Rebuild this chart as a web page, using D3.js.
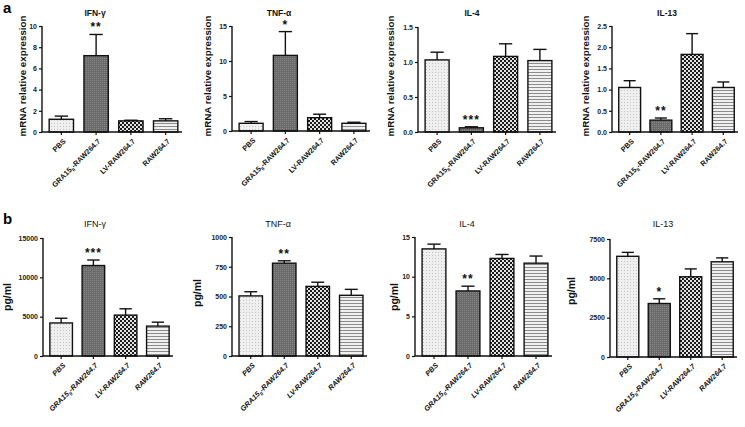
<!DOCTYPE html>
<html><head><meta charset="utf-8">
<script src="https://cdn.jsdelivr.net/npm/d3@7"></script>
<style>body{margin:0;background:#fff}svg{display:block}text{font-family:"Liberation Sans",Arial,sans-serif}</style>
</head><body>
<svg id="c" width="745" height="427"></svg>
<script>
// ---------------- DATA ----------------
const categories = ["PBS", "GRA15II-RAW264.7", "LV-RAW264.7", "RAW264.7"];

const aIFNg = [1.2, 7.2, 1.05, 1.05];
const aIFNgErr = [0.3, 2.0, 0.06, 0.2];
const aIFNgTicks = [0, 2, 4, 6, 8, 10];
const aIFNgSig = "**";

const aTNFa = [1.1, 10.8, 1.9, 1.1];
const aTNFaErr = [0.25, 3.4, 0.5, 0.15];
const aTNFaTicks = [0, 5, 10, 15];
const aTNFaSig = "*";

const aIL4 = [1.03, 0.06, 1.08, 1.02];
const aIL4Err = [0.11, 0.015, 0.18, 0.16];
const aIL4Ticks = [0, 0.5, 1.0, 1.5];
const aIL4Sig = "***";

const aIL13 = [1.05, 0.28, 1.83, 1.05];
const aIL13Err = [0.16, 0.05, 0.49, 0.13];
const aIL13Ticks = [0, 0.5, 1.0, 1.5, 2.0, 2.5];
const aIL13Sig = "**";

const bIFNg = [4200, 11500, 5200, 3800];
const bIFNgErr = [600, 700, 800, 500];
const bIFNgTicks = [0, 5000, 10000, 15000];
const bIFNgSig = "***";

const bTNFa = [505, 780, 585, 510];
const bTNFaErr = [35, 20, 35, 50];
const bTNFaTicks = [0, 250, 500, 750, 1000];
const bTNFaSig = "**";

const bIL4 = [13.5, 8.2, 12.3, 11.7];
const bIL4Err = [0.6, 0.6, 0.5, 0.9];
const bIL4Ticks = [0, 5, 10, 15];
const bIL4Sig = "**";

const bIL13 = [6400, 3400, 5100, 6050];
const bIL13Err = [250, 300, 500, 250];
const bIL13Ticks = [0, 2500, 5000, 7500];
const bIL13Sig = "*";

// ---------------- LAYOUT ----------------
const svg = d3.select("#c");
const defs = svg.append("defs");
(function(){
  let p = defs.append("pattern").attr("id","pPBS").attr("width",3).attr("height",3).attr("patternUnits","userSpaceOnUse");
  p.append("rect").attr("width",3).attr("height",3).attr("fill","#efefef");
  p.append("rect").attr("x",0).attr("y",0).attr("width",1).attr("height",1).attr("fill","#c4c4c4");
  p = defs.append("pattern").attr("id","pGRA").attr("width",2).attr("height",2).attr("patternUnits","userSpaceOnUse");
  p.append("rect").attr("width",2).attr("height",2).attr("fill","#6a6a6a");
  p.append("rect").attr("x",0).attr("y",0).attr("width",1).attr("height",1).attr("fill","#888");
  p = defs.append("pattern").attr("id","pLV").attr("width",4).attr("height",4).attr("patternUnits","userSpaceOnUse");
  p.append("rect").attr("width",4).attr("height",4).attr("fill","#e4e4e4");
  p.append("rect").attr("x",0).attr("y",0).attr("width",2).attr("height",2).attr("fill","#1a1a1a");
  p.append("rect").attr("x",2).attr("y",2).attr("width",2).attr("height",2).attr("fill","#1a1a1a");
  p = defs.append("pattern").attr("id","pRAW").attr("width",4).attr("height",3).attr("patternUnits","userSpaceOnUse");
  p.append("rect").attr("width",4).attr("height",3).attr("fill","#f0f0f0");
  p.append("rect").attr("x",0).attr("y",0).attr("width",4).attr("height",1).attr("fill","#8c8c8c");
})();
const fills = ["url(#pPBS)","url(#pGRA)","url(#pLV)","url(#pRAW)"];

const panels = [
  {title:"IFN-γ", vals:aIFNg, err:aIFNgErr, ticks:aIFNgTicks, sig:aIFNgSig, fmt:d3.format("d"), x0:42, x1:182, yTop:26, yZero:132, tx:95, ty:16, lx:23, ly:76, ylab:"mRNA relative expression", row:"a"},
  {title:"TNF-α", vals:aTNFa, err:aTNFaErr, ticks:aTNFaTicks, sig:aTNFaSig, fmt:d3.format("d"), x0:232, x1:370, yTop:26, yZero:131, tx:279, ty:16, lx:208, ly:76, ylab:"mRNA relative expression", row:"a"},
  {title:"IL-4", vals:aIL4, err:aIL4Err, ticks:aIL4Ticks, sig:aIL4Sig, fmt:d3.format(".1f"), x0:418, x1:556, yTop:27, yZero:132, tx:472, ty:16, lx:391, ly:76, ylab:"mRNA relative expression", row:"a"},
  {title:"IL-13", vals:aIL13, err:aIL13Err, ticks:aIL13Ticks, sig:aIL13Sig, fmt:d3.format(".1f"), x0:612, x1:738, yTop:26, yZero:132, tx:667, ty:16, lx:586, ly:76, ylab:"mRNA relative expression", row:"a"},
  {title:"IFN-γ", vals:bIFNg, err:bIFNgErr, ticks:bIFNgTicks, sig:bIFNgSig, fmt:d3.format("d"), x0:43, x1:173, yTop:238, yZero:356, tx:95, ty:227, lx:7, ly:297, ylab:"pg/ml", row:"b"},
  {title:"TNF-α", vals:bTNFa, err:bTNFaErr, ticks:bTNFaTicks, sig:bTNFaSig, fmt:d3.format("d"), x0:232, x1:367, yTop:237, yZero:356, tx:278, ty:227, lx:197, ly:293, ylab:"pg/ml", row:"b"},
  {title:"IL-4", vals:bIL4, err:bIL4Err, ticks:bIL4Ticks, sig:bIL4Sig, fmt:d3.format("d"), x0:415, x1:552, yTop:237, yZero:356, tx:467, ty:227, lx:394, ly:297, ylab:"pg/ml", row:"b"},
  {title:"IL-13", vals:bIL13, err:bIL13Err, ticks:bIL13Ticks, sig:bIL13Sig, fmt:d3.format("d"), x0:610, x1:737, yTop:239, yZero:357, tx:663, ty:227, lx:571, ly:291, ylab:"pg/ml", row:"b"}
];

svg.append("text").attr("x",3).attr("y",13).attr("font-size",15).attr("font-weight","bold").text("a");
svg.append("text").attr("x",3).attr("y",224).attr("font-size",15).attr("font-weight","bold").text("b");

panels.forEach(P => {
  const g = svg.append("g");
  const x = d3.scaleBand().domain(categories).range([P.x0+3, P.x1]).paddingInner(0.3).paddingOuter(0.12);
  const y = d3.scaleLinear().domain([0, d3.max(P.ticks)]).range([P.yZero, P.yTop]);
  const isB = P.row === "b";

  g.append("text").attr("x",P.tx).attr("y",P.ty).attr("text-anchor","middle")
    .attr("font-size",isB?9:8.5).attr("font-weight",isB?"normal":"bold").attr("fill","#111").text(P.title);
  g.append("text").attr("transform",`translate(${P.lx},${P.ly}) rotate(-90)`).attr("text-anchor","middle")
    .attr("font-size",isB?10.5:9.8).attr("font-weight","bold").attr("dy","0.35em").attr("fill","#111").text(P.ylab);

  g.selectAll("rect.bar").data(P.vals).join("rect").attr("class","bar")
    .attr("x",(d,i)=>x(categories[i])).attr("width",x.bandwidth())
    .attr("y",d=>y(d)).attr("height",d=>y(0)-y(d))
    .attr("fill",(d,i)=>fills[i]).attr("stroke","#111").attr("stroke-width",1.4);

  const cap = x.bandwidth()*0.55;
  P.vals.forEach((v,i)=>{
    const cx = x(categories[i]) + x.bandwidth()/2;
    g.append("line").attr("x1",cx).attr("x2",cx).attr("y1",y(v)).attr("y2",y(v+P.err[i])).attr("stroke","#111").attr("stroke-width",1.4);
    g.append("line").attr("x1",cx-cap/2).attr("x2",cx+cap/2).attr("y1",y(v+P.err[i])).attr("y2",y(v+P.err[i])).attr("stroke","#111").attr("stroke-width",1.4);
  });
  const cx1 = x(categories[1]) + x.bandwidth()/2;
  g.append("text").attr("x",cx1).attr("y",y(P.vals[1]+P.err[1]) - 3).attr("text-anchor","middle")
    .attr("font-size",12).attr("font-weight","bold").attr("letter-spacing","1px").attr("fill","#111").text(P.sig);

  const ya = g.append("g").attr("transform",`translate(${P.x0},0)`)
    .call(d3.axisLeft(y).tickValues(P.ticks).tickFormat(P.fmt).tickSize(3).tickPadding(2));
  ya.select(".domain").attr("stroke","#111").attr("stroke-width",1.4).attr("d",`M0,${P.yZero}V${P.yTop}`);
  ya.selectAll(".tick line").attr("stroke","#111").attr("stroke-width",1.2);
  ya.selectAll(".tick text").attr("font-size",7).attr("font-weight","bold").attr("fill","#222")
    .style("font-family","'Liberation Sans',Arial,sans-serif");

  const xa = g.append("g").attr("transform",`translate(0,${P.yZero})`)
    .call(d3.axisBottom(x).tickSize(3).tickFormat(""));
  xa.select(".domain").attr("stroke","#111").attr("stroke-width",1.4).attr("d",`M${P.x0},0H${P.x1}`);
  xa.selectAll(".tick line").attr("stroke","#111").attr("stroke-width",1.2);

  categories.forEach(c=>{
    const cx = x(c) + x.bandwidth()/2 + 3;
    const t = g.append("text").attr("transform",`translate(${cx},${P.yZero+8}) rotate(-45)`)
      .attr("text-anchor","end").attr("font-size",7.3).attr("font-weight","bold").attr("fill","#111")
      .attr("font-style",isB?"italic":"normal").attr("dy","0.35em");
    if (c.startsWith("GRA15II")) {
      t.append("tspan").text("GRA15");
      t.append("tspan").attr("font-size",5).attr("dy","2").text("II");
      t.append("tspan").attr("dy","-2").text("-RAW264.7");
    } else t.text(c);
  });
});
</script>
</body></html>
